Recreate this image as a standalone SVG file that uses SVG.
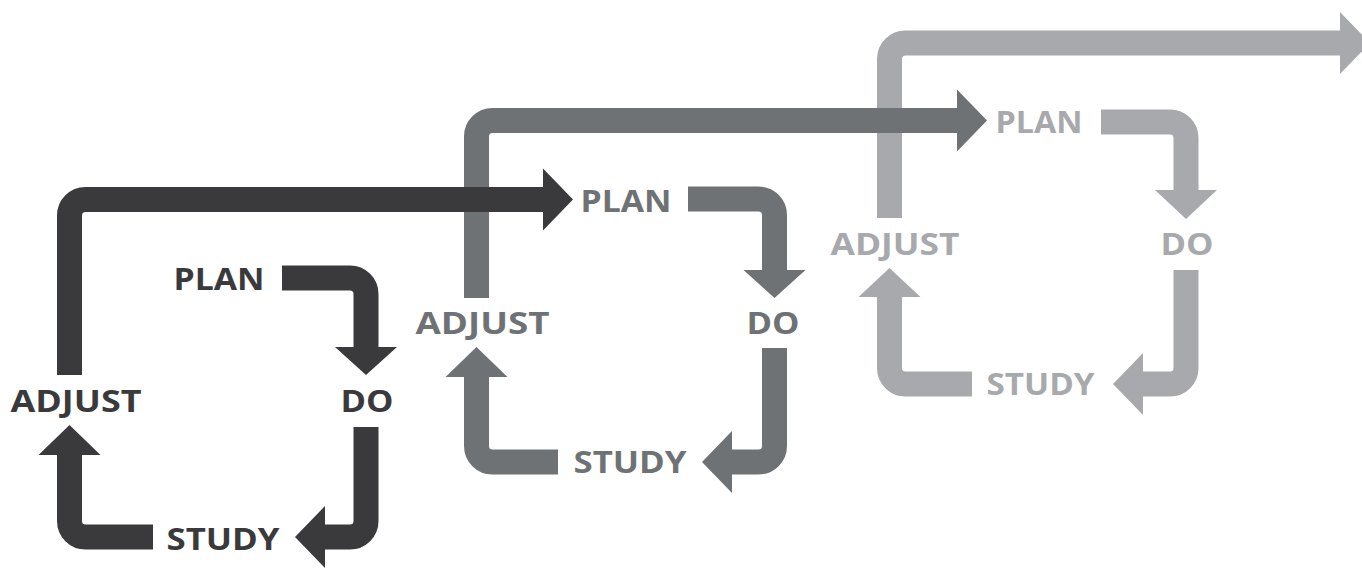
<svg xmlns="http://www.w3.org/2000/svg" width="1362" height="571" viewBox="0 0 1362 571">
  <style>
    .lbl { font-family: "Open Sans", "Liberation Sans", sans-serif; font-weight: 700; font-size: 31px; }
    .ln { fill: none; stroke-width: 25; stroke-linecap: butt; }
    .c1 { fill: #3a3a3c; }
    .c2 { fill: #6f7275; }
    .c3 { fill: #a7a9ac; }
    .s1 { stroke: #3a3a3c; }
    .s2 { stroke: #6f7275; }
    .s3 { stroke: #a7a9ac; }
  </style>
  <rect width="1362" height="571" fill="#ffffff"/>
  <g id="connectors">
    <!-- cycle 3 (light) -->
    <g id="cycle3-connectors">
      <path class="ln s3" d="M1101 122 H1170 A16 16 0 0 1 1186 138 V190"/>
      <polygon class="c3" points="1155,190 1217,190 1186,219"/>
      <path class="ln s3" d="M1186 270 V368 A16 16 0 0 1 1170 384 H1143"/>
      <polygon class="c3" points="1143,353 1143,415 1113,384"/>
      <path class="ln s3" d="M972 384 H905.5 A16 16 0 0 1 889.5 368 V297"/>
      <polygon class="c3" points="858.5,297 920.5,297 889.5,268"/>
      <path class="ln s3" d="M889.5 218 V59 A16 16 0 0 1 905.5 43 H1340"/>
      <polygon class="c3" points="1340,12 1340,74 1370,43"/>
    </g>
    <!-- cycle 2 (mid) -->
    <g id="cycle2-connectors">
      <path class="ln s2" d="M688 199 H758.5 A16 16 0 0 1 774.5 215 V270"/>
      <polygon class="c2" points="743.5,270 805.5,270 774.5,298"/>
      <path class="ln s2" d="M774.5 348 V446 A16 16 0 0 1 758.5 462 H732"/>
      <polygon class="c2" points="732,431 732,493 702,462"/>
      <path class="ln s2" d="M558 462 H492.5 A16 16 0 0 1 476.5 446 V377"/>
      <polygon class="c2" points="445.5,377 507.5,377 476.5,347"/>
      <path class="ln s2" d="M476.5 298 V136.5 A16 16 0 0 1 492.5 120.5 H957"/>
      <polygon class="c2" points="957,89.5 957,151.5 987,120.5"/>
    </g>
    <!-- cycle 1 (dark) -->
    <g id="cycle1-connectors">
      <path class="ln s1" d="M282 278 H350 A16 16 0 0 1 366 294 V347"/>
      <polygon class="c1" points="335,347 397,347 366,375"/>
      <path class="ln s1" d="M366 427 V521 A16 16 0 0 1 350 537 H325"/>
      <polygon class="c1" points="325,506 325,568 295,537"/>
      <path class="ln s1" d="M153 537 H85.5 A16 16 0 0 1 69.5 521 V455"/>
      <polygon class="c1" points="38.5,455 100.5,455 69.5,425"/>
      <path class="ln s1" d="M69.5 375 V215.5 A16 16 0 0 1 85.5 199.5 H543"/>
      <polygon class="c1" points="543,168.5 543,230.5 573,199.5"/>
    </g>
  </g>
  <g id="c1-plan"><text class="lbl c1" x="173.5" y="290" textLength="91" lengthAdjust="spacingAndGlyphs">PLAN</text></g>
  <g id="c1-do"><text class="lbl c1" x="340.5" y="412" textLength="53" lengthAdjust="spacingAndGlyphs">DO</text></g>
  <g id="c1-study"><text class="lbl c1" x="166.5" y="550" textLength="113" lengthAdjust="spacingAndGlyphs">STUDY</text></g>
  <g id="c1-adjust"><text class="lbl c1" x="10.5" y="412" textLength="131" lengthAdjust="spacingAndGlyphs">ADJUST</text></g>
  <g id="c2-plan"><text class="lbl c2" x="580.5" y="212" textLength="91" lengthAdjust="spacingAndGlyphs">PLAN</text></g>
  <g id="c2-do"><text class="lbl c2" x="746.5" y="334" textLength="53" lengthAdjust="spacingAndGlyphs">DO</text></g>
  <g id="c2-study"><text class="lbl c2" x="573.5" y="473" textLength="113" lengthAdjust="spacingAndGlyphs">STUDY</text></g>
  <g id="c2-adjust"><text class="lbl c2" x="415.5" y="334" textLength="134" lengthAdjust="spacingAndGlyphs">ADJUST</text></g>
  <g id="c3-plan"><text class="lbl c3" x="995.5" y="133" textLength="87" lengthAdjust="spacingAndGlyphs">PLAN</text></g>
  <g id="c3-do"><text class="lbl c3" x="1160.5" y="255" textLength="53" lengthAdjust="spacingAndGlyphs">DO</text></g>
  <g id="c3-study"><text class="lbl c3" x="986.5" y="395" textLength="108" lengthAdjust="spacingAndGlyphs">STUDY</text></g>
  <g id="c3-adjust"><text class="lbl c3" x="830.5" y="255" textLength="129" lengthAdjust="spacingAndGlyphs">ADJUST</text></g>
</svg>
